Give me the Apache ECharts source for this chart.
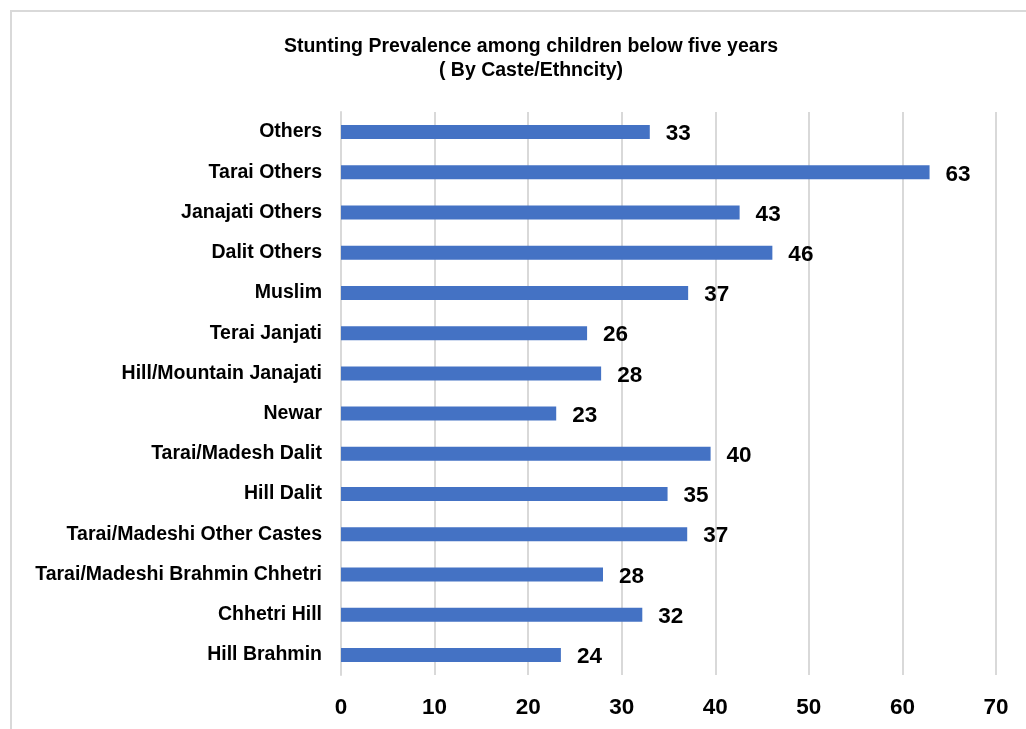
<!DOCTYPE html>
<html>
<head>
<meta charset="utf-8">
<script src="https://cdn.jsdelivr.net/npm/echarts@6/dist/echarts.min.js"></script>
<style>
  html, body { margin: 0; padding: 0; background: #fff; overflow: hidden; }
  #frame { position: absolute; left: 10px; top: 10px; width: 1040px; height: 740px; border: 2px solid #d9d9d9; }
  #main { position: absolute; left: 0; top: 0; width: 1026px; height: 729px; }
</style>
</head>
<body>
<div id="frame"></div>
<div id="main"></div>
<script>
var chartDom = document.getElementById('main');
var myChart = echarts.init(chartDom);
var option;

// bottom to top, as drawn on the y axis
var categories = ['Hill Brahmin', 'Chhetri Hill', 'Tarai/Madeshi Brahmin Chhetri', 'Tarai/Madeshi Other Castes',
    'Hill Dalit', 'Tarai/Madesh Dalit', 'Newar', 'Hill/Mountain Janajati', 'Terai Janjati', 'Muslim',
    'Dalit Others', 'Janajati Others', 'Tarai Others', 'Others'];
var stunting = [23.5, 32.2, 28, 37, 34.9, 39.5, 23, 27.8, 26.3, 37.1, 46.1, 42.6, 62.9, 33];
var xTicks = [0, 10, 20, 30, 40, 50, 60, 70];

option = {
    animation: false,
    textStyle: { fontFamily: 'Liberation Sans, Arial, sans-serif' },
    title: {
        text: 'Stunting Prevalence among children below five years\n( By Caste/Ethncity)',
        left: 526,
        top: 30,
        textAlign: 'center',
        textStyle: { fontSize: 19.5, fontWeight: 'bold', color: '#000', lineHeight: 24 }
    },
    grid: { left: 341, right: 30, top: 112, bottom: 54, containLabel: false },
    xAxis: {
        type: 'value',
        min: xTicks[0],
        max: xTicks[xTicks.length - 1],
        interval: 10,
        axisLine: { show: false },
        axisTick: { show: false },
        axisLabel: { fontSize: 22.5, fontWeight: 'bold', color: '#000', margin: 21 },
        splitLine: { lineStyle: { color: '#d9d9d9', width: 2 } }
    },
    yAxis: {
        type: 'category',
        data: categories,
        axisLine: { show: true, lineStyle: { color: '#d9d9d9', width: 2 } },
        axisTick: { show: false },
        axisLabel: { fontSize: 19.5, fontWeight: 'bold', color: '#000', margin: 19, padding: [4, 0, 0, 0] }
    },
    series: [{
        type: 'bar',
        data: stunting,
        barWidth: 14,
        itemStyle: { color: '#4472c4' },
        label: {
            show: true,
            position: 'right',
            distance: 16,
            offset: [0, 2],
            fontSize: 22.5,
            fontWeight: 'bold',
            color: '#000',
            formatter: function (p) { return Math.round(p.value); }
        }
    }]
};
option && myChart.setOption(option);
</script>
</body>
</html>
